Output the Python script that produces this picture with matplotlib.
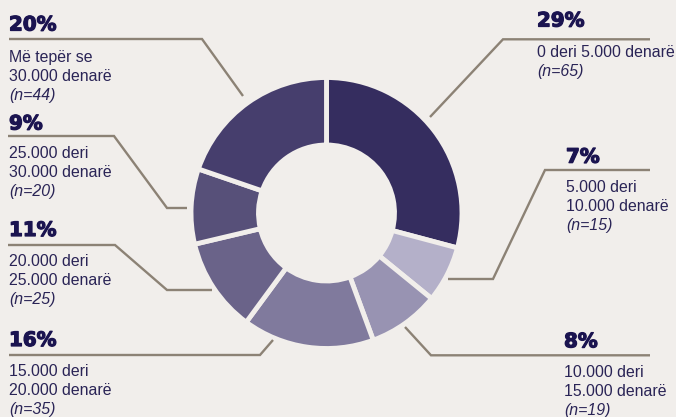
import matplotlib.pyplot as plt
import matplotlib.patheffects as pe

# -------------------------
# Data
# -------------------------
pct_labels = ["29%", "7%", "8%", "16%", "11%", "9%", "20%"]
ranges = [
    ["0 deri 5.000 denarë"],
    ["5.000 deri", "10.000 denarë"],
    ["10.000 deri", "15.000 denarë"],
    ["15.000 deri", "20.000 denarë"],
    ["20.000 deri", "25.000 denarë"],
    ["25.000 deri", "30.000 denarë"],
    ["Më tepër se", "30.000 denarë"],
]
counts = [65, 15, 19, 35, 25, 20, 44]

colors = ["#352d5f", "#b4b0c9", "#9893b2", "#807a9d", "#6a6389", "#575079", "#463e6d"]
bg = "#f1eeeb"
line_col = "#8c8275"
pct_col = "#1b1450"
txt_col = "#2a2456"

W, H = 676, 417


def flip(pts):
    # layout is written top-down in pixels
    return [p[0] for p in pts], [H - p[1] for p in pts]


# label layout: x, baseline of percentage, baseline of first text line, leader path
layout = [
    (537, 26.5, 57.3, [(430, 117), (503, 39.3), (650, 39.3)]),
    (566, 162.7, 191.7, [(448, 279), (493, 279), (545, 170), (650, 170)]),
    (564, 347.3, 377.3, [(405, 327), (431, 355.3), (650, 355.3)]),
    (9, 346, 376, [(9, 355), (260, 355), (273, 340)]),
    (9, 236, 266, [(8, 245), (115, 245), (167, 290), (212, 290)]),
    (9, 129.5, 158, [(8, 136), (114, 136), (167, 208), (187, 208)]),
    (9, 30.5, 61.5, [(9, 39), (202, 39), (243, 96)]),
]

# -------------------------
# Plot
# -------------------------
fig = plt.figure(figsize=(W / 100, H / 100), dpi=100, facecolor=bg)
ax = fig.add_axes([0, 0, 1, 1])
ax.set_facecolor(bg)

ax.pie(
    counts,
    colors=colors,
    startangle=90,
    counterclock=False,
    radius=135.5,
    center=(326.5, H - 213),
    wedgeprops=dict(width=67.5, edgecolor=bg, linewidth=3.5),
)

ax.set_xlim(0, W)
ax.set_ylim(0, H)
ax.set_aspect("equal")
ax.axis("off")

heavy = [pe.withStroke(linewidth=0.9, foreground=pct_col)]
step = 19
for pct, lines, n, (x, pb, tb, path) in zip(pct_labels, ranges, counts, layout):
    lx, ly = flip(path)
    ax.plot(lx, ly, color=line_col, lw=1.7, solid_capstyle="butt", solid_joinstyle="miter")
    ax.text(x, H - pb, pct, family="DejaVu Sans", weight="bold", fontsize=14.3,
            color=pct_col, va="baseline", ha="left", path_effects=heavy)
    for i, s in enumerate(lines):
        ax.text(x, H - (tb + i * step), s, family="Liberation Sans", fontsize=11.4,
                color=txt_col, va="baseline", ha="left")
    ax.text(x, H - (tb + len(lines) * step), f"(n={n})", family="Liberation Sans",
            style="italic", fontsize=11.4, color=txt_col, va="baseline", ha="left")

plt.savefig("out.png", dpi=100, facecolor=bg)
